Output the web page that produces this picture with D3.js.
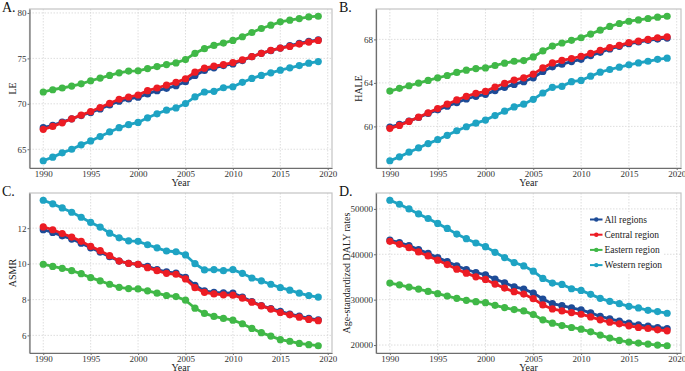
<!DOCTYPE html>
<html>
<head>
<meta charset="utf-8">
<script src="https://cdn.jsdelivr.net/npm/d3@7"></script>
<style>
  body { margin: 0; background: #fff; }
  svg { display: block; font-family: "Liberation Serif", "DejaVu Serif", serif; }
</style>
</head>
<body>
<svg id="drawing_region" width="685" height="371"></svg>
<script>
const years = d3.range(1990, 2020);
const regions = ["All regions", "Central region", "Eastern region", "Western region"];
const colors = ["#1d4b97", "#ec1c24", "#40b847", "#1ea3c3"];
const yearTicks = [1990, 1995, 2000, 2005, 2010, 2015, 2020];

// A. LE
const leAll = [67.37,67.62,67.99,68.35,68.71,69.04,69.44,69.88,70.28,70.53,70.72,71.08,71.45,71.70,71.99,72.43,73.12,73.67,73.96,74.21,74.39,74.76,75.19,75.56,75.85,76.14,76.40,76.65,76.87,77.05];
const leCentral = [67.19,67.51,67.91,68.35,68.75,69.15,69.59,70.06,70.50,70.75,70.97,71.45,71.74,72.06,72.36,72.76,73.48,73.92,74.14,74.32,74.54,74.83,75.19,75.56,75.89,76.14,76.32,76.58,76.80,76.98];
const leEastern = [71.30,71.55,71.74,71.95,72.20,72.54,72.83,73.12,73.41,73.60,73.63,73.88,74.10,74.32,74.50,74.87,75.56,76.07,76.43,76.69,76.98,77.38,77.85,78.29,78.65,79.02,79.20,79.38,79.56,79.64];
const leWestern = [63.73,64.13,64.60,65.00,65.48,65.91,66.39,66.90,67.37,67.70,67.95,68.46,68.90,69.30,69.55,70.03,70.76,71.30,71.37,71.77,71.88,72.36,72.79,73.12,73.41,73.70,73.96,74.21,74.47,74.65];

// B. HALE
const haleAll = [59.94,60.18,60.49,60.82,61.19,61.52,61.86,62.19,62.52,62.77,62.95,63.29,63.59,63.86,64.11,64.47,65.05,65.48,65.72,65.96,66.17,66.51,66.81,67.12,67.36,67.60,67.76,67.91,68.03,68.12];
const haleCentral = [59.82,60.09,60.46,60.85,61.25,61.64,62.04,62.43,62.77,63.04,63.22,63.62,63.95,64.26,64.47,64.81,65.38,65.84,66.08,66.24,66.45,66.72,67.00,67.24,67.45,67.70,67.85,68.00,68.15,68.24];
const haleEastern = [63.25,63.50,63.74,63.98,64.23,64.47,64.68,64.96,65.17,65.32,65.38,65.60,65.81,65.99,66.05,66.39,66.94,67.39,67.67,67.91,68.15,68.49,68.85,69.19,69.46,69.67,69.79,69.92,70.04,70.13];
const haleWestern = [56.84,57.20,57.63,58.02,58.42,58.78,59.18,59.60,59.97,60.30,60.58,61.00,61.40,61.79,62.04,62.49,63.07,63.59,63.68,64.11,64.23,64.62,64.99,65.23,65.45,65.66,65.84,65.99,66.17,66.27];

// C. ASMR
const asmrAll = [11.91,11.76,11.57,11.39,11.16,10.90,10.66,10.40,10.16,10.03,9.98,9.86,9.68,9.55,9.49,9.25,8.80,8.49,8.41,8.38,8.36,8.14,7.89,7.67,7.50,7.34,7.19,7.08,6.95,6.87];
const asmrCentral = [12.07,11.91,11.70,11.50,11.26,10.98,10.74,10.46,10.16,10.03,9.98,9.79,9.62,9.47,9.42,9.16,8.67,8.41,8.32,8.27,8.25,8.08,7.86,7.65,7.47,7.28,7.15,7.02,6.89,6.82];
const asmrEastern = [9.98,9.86,9.75,9.62,9.45,9.23,9.05,8.86,8.69,8.62,8.60,8.49,8.36,8.23,8.17,7.97,7.52,7.23,7.06,6.95,6.85,6.65,6.39,6.15,5.96,5.76,5.67,5.55,5.48,5.42];
const asmrWestern = [13.56,13.36,13.13,12.89,12.61,12.32,12.06,11.72,11.46,11.29,11.26,11.07,10.90,10.72,10.68,10.50,10.01,9.66,9.68,9.62,9.68,9.47,9.21,9.05,8.86,8.67,8.53,8.36,8.23,8.14];

// D. Age-standardized DALY rates
const dalyAll = [43140,42550,41900,41020,40220,39270,38390,37440,36640,35980,35470,34520,33720,32850,32330,31460,30140,29120,28680,28170,27730,27080,26350,25760,25250,24820,24450,24160,23870,23650];
const dalyCentral = [42850,42190,41460,40510,39630,38690,37740,36710,35840,35030,34450,33430,32550,31750,31240,30220,28830,27950,27520,27150,26790,26200,25550,25030,24670,24230,23870,23650,23360,23140];
const dalyEastern = [33650,33280,32770,32330,31820,31310,30800,30290,29850,29560,29340,28760,28250,27810,27520,26710,25550,24820,24300,23870,23500,22920,22190,21530,21020,20650,20430,20210,20000,19850];
const dalyWestern = [51900,51020,50000,48900,47880,46790,45690,44450,43430,42480,41680,40440,39270,38170,37440,36280,34670,33650,33360,32410,32040,31170,30290,29630,29120,28540,28170,27660,27370,27010];

const leTicks = [65, 70, 75, 80];
const haleTicks = [60, 64, 68];
const asmrTicks = [6, 8, 10, 12];
const dalyTicks = [20000, 30000, 40000, 50000];

const panels = [
    { tag: "A.", ylabel: "LE", series: [leAll, leCentral, leEastern, leWestern], ticks: leTicks,
      box: {x0: 29.5, x1: 332, y0: 9, y1: 168}, tagPos: [2, 12], legend: false },
    { tag: "B.", ylabel: "HALE", series: [haleAll, haleCentral, haleEastern, haleWestern], ticks: haleTicks,
      box: {x0: 376, x1: 681, y0: 9, y1: 168}, tagPos: [339, 12], legend: false },
    { tag: "C.", ylabel: "ASMR", series: [asmrAll, asmrCentral, asmrEastern, asmrWestern], ticks: asmrTicks,
      box: {x0: 29.5, x1: 332, y0: 193, y1: 353}, tagPos: [2, 196], legend: false },
    { tag: "D.", ylabel: "Age-standardized DALY rates", series: [dalyAll, dalyCentral, dalyEastern, dalyWestern], ticks: dalyTicks,
      box: {x0: 376, x1: 681, y0: 193, y1: 353}, tagPos: [339, 196], legend: true }
];

const svg = d3.select("#drawing_region");

panels.forEach(p => drawPanel(p));

// ggplot style: widen a range by 5% on both sides
function expand(ext) {
    const pad = (ext[1] - ext[0]) * 0.05;
    return [ext[0] - pad, ext[1] + pad];
}

function drawPanel(p) {
    const b = p.box;
    const g = svg.append("g");

    const xscale = d3.scaleLinear()
        .domain(expand(d3.extent(years)))
        .range([b.x0, b.x1]);

    const yscale = d3.scaleLinear()
        .domain(expand(d3.extent(p.series.flat())))
        .range([b.y1, b.y0]);

    // grid
    g.append("g")
        .selectAll("line")
        .data(yearTicks)
        .join("line")
        .attr("x1", d => xscale(d)).attr("x2", d => xscale(d))
        .attr("y1", b.y0).attr("y2", b.y1)
        .attr("stroke", "#d6d6d6").attr("stroke-width", 0.8)
        .attr("stroke-dasharray", "1.5,1.5");
    g.append("g")
        .selectAll("line")
        .data(p.ticks)
        .join("line")
        .attr("x1", b.x0).attr("x2", b.x1)
        .attr("y1", d => yscale(d)).attr("y2", d => yscale(d))
        .attr("stroke", "#d6d6d6").attr("stroke-width", 0.8)
        .attr("stroke-dasharray", "1.5,1.5");

    // panel border
    g.append("rect")
        .attr("x", b.x0).attr("y", b.y0)
        .attr("width", b.x1 - b.x0).attr("height", b.y1 - b.y0)
        .attr("fill", "none")
        .attr("stroke", "#c4c4c4")
        .attr("stroke-width", 1.2);

    // axes
    const xaxis = d3.axisBottom(xscale)
        .tickValues(yearTicks)
        .tickFormat(d3.format("d"))
        .tickSize(2)
        .tickSizeOuter(0);
    const yaxis = d3.axisLeft(yscale)
        .tickValues(p.ticks)
        .tickFormat(d3.format("d"))
        .tickSize(2)
        .tickSizeOuter(0);

    const xg = g.append("g")
        .attr("transform", `translate(0, ${b.y1})`)
        .call(xaxis);
    const yg = g.append("g")
        .attr("transform", `translate(${b.x0}, 0)`)
        .call(yaxis);

    [xg, yg].forEach(ax => {
        ax.select(".domain").attr("stroke", "#6e6e6e").attr("stroke-width", 1.2);
        ax.selectAll(".tick line").attr("stroke", "#6e6e6e");
        ax.selectAll(".tick text")
            .attr("fill", "#333")
            .attr("font-size", "9px")
            .attr("font-family", "Liberation Serif, serif");
    });
    xg.selectAll(".tick text").attr("y", 2.5);
    yg.selectAll(".tick text").attr("x", -3);

    // axis titles
    g.append("text")
        .attr("x", (b.x0 + b.x1) / 2)
        .attr("y", b.y1 + 18)
        .attr("text-anchor", "middle")
        .attr("font-size", "10px")
        .attr("fill", "#222")
        .text("Year");

    const ylx = p.ylabel.length > 6 ? b.x0 - 26 : b.x0 - 14;
    g.append("text")
        .attr("transform", `translate(${ylx}, ${(b.y0 + b.y1) / 2}) rotate(-90)`)
        .attr("text-anchor", "middle")
        .attr("font-size", "10px")
        .attr("fill", "#222")
        .text(p.ylabel);

    // panel tag
    svg.append("text")
        .attr("x", p.tagPos[0])
        .attr("y", p.tagPos[1])
        .attr("font-size", "14px")
        .attr("fill", "#111")
        .text(p.tag);

    // lines and points
    const line = d3.line()
        .x((d, i) => xscale(years[i]))
        .y(d => yscale(d));

    p.series.forEach((s, k) => {
        const sg = g.append("g");
        sg.append("path")
            .attr("d", line(s))
            .attr("fill", "none")
            .attr("stroke", colors[k])
            .attr("stroke-width", 2.8);
        sg.selectAll("circle")
            .data(s)
            .join("circle")
            .attr("cx", (d, i) => xscale(years[i]))
            .attr("cy", d => yscale(d))
            .attr("r", 3.6)
            .attr("fill", colors[k]);
    });

    if (p.legend) {
        const lg = g.append("g").attr("transform", "translate(584, 212)");
        lg.append("rect")
            .attr("x", 0).attr("y", 0)
            .attr("width", 80).attr("height", 61)
            .attr("fill", "#fff");
        regions.forEach((r, k) => {
            const y = 7.5 + k * 15.2;
            lg.append("line")
                .attr("x1", 6).attr("x2", 18.5)
                .attr("y1", y).attr("y2", y)
                .attr("stroke", colors[k]).attr("stroke-width", 2);
            lg.append("circle")
                .attr("cx", 12.3).attr("cy", y).attr("r", 2.2)
                .attr("fill", colors[k]);
            lg.append("text")
                .attr("x", 20.5).attr("y", y)
                .attr("dy", "0.35em")
                .attr("font-size", "9.5px")
                .attr("fill", "#222")
                .text(r);
        });
    }
}
</script>
</body>
</html>
